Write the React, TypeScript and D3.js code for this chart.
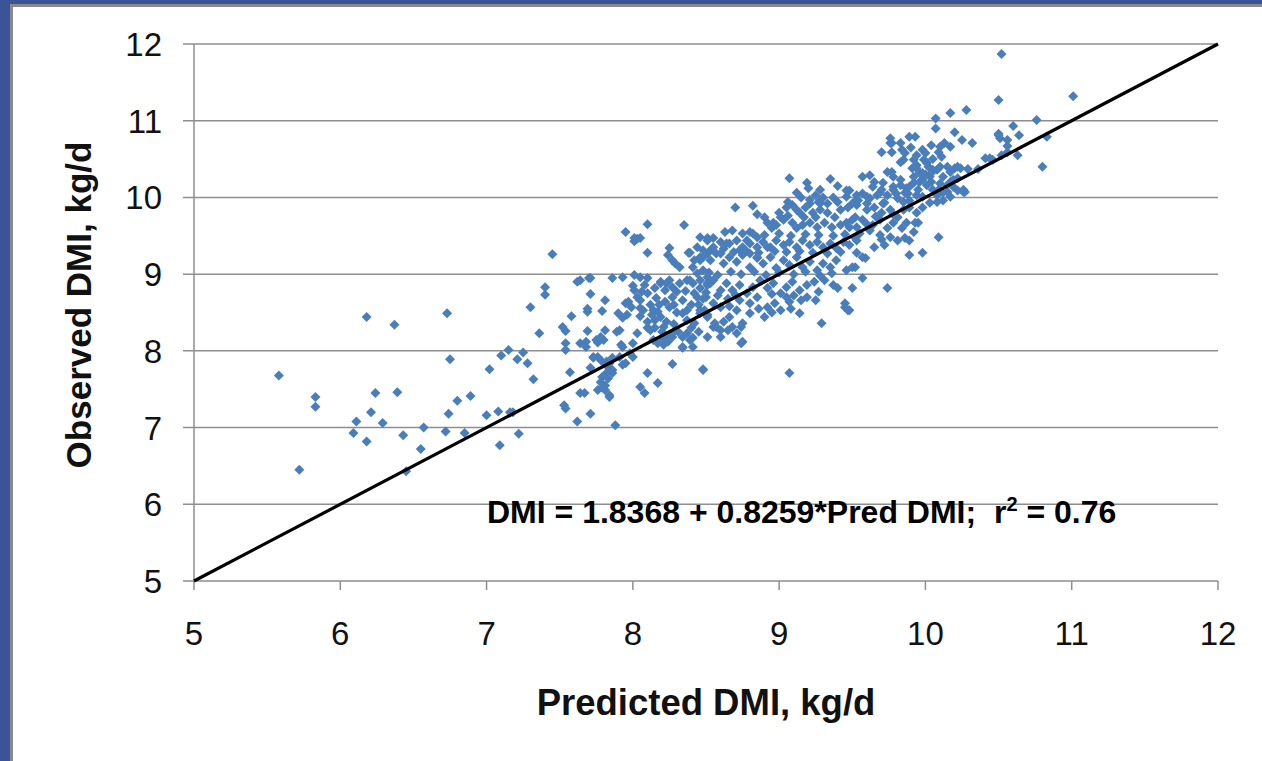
import React from "react";
import * as d3 from "d3";

// ---- data (Predicted DMI, Observed DMI), kg/d ----
const sparseLow: [number, number][] = [
  [7.45,9.26],[7.70,8.95],[7.62,8.90],[7.40,8.83],[7.40,8.73],[7.71,8.74],[7.30,8.57],[6.18,8.44],[6.37,8.34],[6.73,8.49],
  [7.58,8.45],[7.69,8.55],[7.69,8.51],[7.36,8.23],[7.52,8.31],[7.54,8.26],[7.69,8.26],[7.68,8.12],[7.68,8.05],[7.54,8.10],
  [7.54,8.01],[7.75,8.14],[7.73,7.92],[7.71,7.78],[7.57,7.72],[7.67,7.45],[7.76,7.49],[7.53,7.29],[7.54,7.25],[7.62,7.08],
  [7.71,7.18],[6.75,7.89],[7.02,7.76],[7.10,7.94],[7.15,8.01],[7.21,7.89],[7.25,7.98],[7.28,7.84],[7.32,7.63],[5.58,7.68],
  [5.83,7.40],[5.83,7.27],[6.24,7.45],[6.39,7.46],[6.11,7.08],[6.21,7.20],[6.29,7.06],[6.09,6.93],[6.18,6.82],[6.43,6.90],
  [6.57,7.00],[6.72,6.95],[6.74,7.18],[6.80,7.35],[6.89,7.41],[7.00,7.16],[7.08,7.21],[7.18,7.20],[7.16,7.20],[7.22,6.92],
  [7.09,6.77],[6.85,6.93],[6.55,6.72],[6.45,6.43],[5.72,6.45],
];

const clusterLeft: [number, number][] = [
  [7.95,9.55],[8.03,9.46],[8.01,9.43],[8.10,9.28],[8.25,9.34],[8.24,9.25],[8.27,9.18],[8.29,9.14],[8.32,9.09],[8.38,9.28],
  [8.44,9.35],[8.46,9.48],[8.51,9.47],[8.41,9.09],[8.46,9.18],[8.51,9.27],[7.71,8.95],[7.86,8.95],[7.93,8.96],[8.01,8.99],
  [8.05,8.96],[8.10,8.95],[7.81,8.66],[7.79,8.52],[7.81,8.27],[7.78,8.18],[7.80,8.14],[7.76,8.11],[7.89,8.25],[7.91,8.27],
  [7.92,8.08],[8.03,8.23],[7.90,8.49],[7.93,8.43],[7.96,8.47],[7.95,8.62],[7.97,8.64],[7.99,8.57],[8.03,8.70],[8.05,8.66],
  [8.01,8.79],[8.06,8.77],[8.10,8.75],[8.05,8.56],[8.07,8.53],[8.12,8.60],[8.14,8.53],[8.13,8.47],[8.16,8.69],[8.17,8.51],
  [8.19,8.44],[8.15,8.40],[8.10,8.30],[8.12,8.27],[8.15,8.30],[8.21,8.31],[8.23,8.38],[8.25,8.57],[8.22,8.64],[8.27,8.70],
  [8.30,8.77],[8.34,8.66],[8.37,8.53],[8.34,8.49],[8.40,8.60],[8.44,8.70],[8.46,8.82],[8.51,8.88],[8.32,8.88],[8.37,8.92],
  [8.41,8.88],[8.23,8.88],[8.27,8.83],[8.19,8.88],[8.44,9.01],[8.48,9.05],[8.51,8.96],[8.14,8.14],[8.17,8.10],[8.21,8.08],
  [8.24,8.12],[8.20,8.17],[8.23,8.18],[8.27,8.18],[8.31,8.25],[8.34,8.18],[8.37,8.23],[8.41,8.17],[8.34,8.05],[8.46,8.49],
  [8.49,8.53],[8.51,8.47],[8.00,7.92],[7.98,7.97],[7.93,7.82],[7.91,7.92],[7.86,7.91],[7.82,7.86],[7.83,7.79],[7.86,7.75],
  [7.73,7.91],[7.76,7.92],[7.79,7.86],[7.79,7.66],[7.86,7.71],[7.83,7.64],[7.81,7.55],[7.79,7.52],[7.81,7.49],[7.84,7.40],
  [7.88,7.03],[8.05,7.53],[8.08,7.45],[8.10,7.71],[8.17,7.58],[8.27,7.83],[8.48,7.76],[8.19,8.90],[8.25,8.92],[8.39,8.92],
  [8.53,8.88],[7.64,8.92],[7.64,8.10],[7.84,7.84],[7.95,7.84],[7.82,7.71],[7.78,7.59],[7.64,7.45],[7.84,7.42],[7.93,8.05],
  [8.00,8.10],[8.27,8.23],[8.39,8.14],[8.41,8.05],[8.34,8.04],[8.51,8.18],[8.57,8.31],[8.75,8.12],[8.35,9.64],[8.10,9.65],
  [8.01,9.47],[8.05,9.47],[8.39,9.28],[8.48,9.31],[8.46,9.22],[8.42,9.18],
];

const clusterMid: [number, number][] = [
  [9.07,10.25],[9.35,10.24],[9.19,10.19],[9.20,10.12],[9.25,10.03],[9.46,10.09],[9.48,10.09],[8.70,9.87],[8.82,9.89],[9.00,9.80],
  [9.06,9.94],[9.09,9.90],[9.05,9.87],[9.14,9.80],[9.18,9.87],[9.21,9.92],[9.27,9.94],[9.30,10.00],[9.37,10.00],[9.40,9.94],
  [9.33,9.92],[9.28,9.84],[9.25,9.74],[9.33,9.80],[9.42,9.84],[9.47,9.87],[9.50,9.92],[9.54,9.96],[8.92,9.67],[8.95,9.60],
  [8.98,9.64],[9.03,9.71],[9.09,9.67],[9.12,9.60],[9.16,9.64],[9.21,9.67],[9.26,9.61],[9.31,9.67],[9.36,9.61],[9.42,9.64],
  [9.46,9.67],[9.50,9.71],[9.53,9.61],[8.63,9.55],[8.68,9.57],[8.75,9.53],[8.80,9.55],[8.85,9.48],[8.51,9.44],[8.55,9.47],
  [8.60,9.42],[8.66,9.40],[8.71,9.44],[8.75,9.35],[8.80,9.40],[8.85,9.35],[8.89,9.42],[8.94,9.35],[8.98,9.44],[9.03,9.38],
  [9.07,9.42],[9.12,9.35],[9.16,9.44],[9.21,9.38],[9.26,9.42],[9.30,9.35],[9.35,9.40],[9.39,9.34],[9.44,9.42],[9.48,9.38],
  [9.53,9.44],[8.48,9.22],[8.53,9.18],[8.57,9.27],[8.62,9.14],[8.66,9.22],[8.71,9.16],[8.75,9.25],[8.80,9.09],[8.85,9.21],
  [8.89,9.14],[8.94,9.22],[8.98,9.08],[9.03,9.18],[9.07,9.12],[9.12,9.22],[9.16,9.09],[9.21,9.16],[9.26,9.05],[9.30,9.14],
  [9.35,9.09],[9.39,9.18],[9.46,9.05],[9.50,9.09],[8.46,8.92],[8.51,8.86],[8.55,8.92],[8.60,8.79],[8.64,8.88],[8.68,8.79],
  [8.73,8.86],[8.78,8.75],[8.82,8.83],[8.87,8.92],[8.92,8.82],[8.96,8.88],[9.01,8.75],[9.05,8.83],[9.09,8.90],[9.14,8.79],
  [9.19,8.86],[9.24,8.90],[9.27,8.77],[9.31,8.92],[9.37,8.86],[9.40,8.82],[9.50,8.82],[8.46,8.53],[8.51,8.44],[8.55,8.62],
  [8.60,8.57],[8.56,8.36],[8.62,8.38],[8.66,8.44],[8.71,8.53],[8.75,8.36],[8.68,8.31],[8.80,8.62],[8.80,8.49],[8.73,8.66],
  [8.92,8.57],[8.90,8.44],[8.97,8.62],[9.01,8.53],[9.05,8.70],[9.07,8.64],[9.14,8.49],[9.15,8.66],[9.19,8.70],[9.45,8.57],
  [9.47,8.53],[9.29,8.36],[8.60,8.18],[8.74,8.10],[8.48,7.75],[9.07,7.71],[8.55,8.31],[8.60,8.27],[8.65,8.27],[8.74,8.31],
  [8.71,8.23],[8.55,9.35],[8.60,9.27],[8.64,9.40],[8.78,9.44],[8.82,9.53],[8.73,9.31],[8.80,9.27],[8.85,9.22],[8.92,9.35],
  [8.96,9.67],[9.01,9.74],[9.12,9.84],[9.21,9.97],[9.28,9.92],[9.23,9.80],[9.45,8.62],[9.52,9.47],[9.53,9.28],
];

const clusterRight: [number, number][] = [
  [10.07,11.03],[10.17,11.10],[10.28,11.14],[10.07,10.90],[10.20,10.85],[10.25,10.75],[10.32,10.71],[10.50,10.81],[9.89,10.79],[9.93,10.79],
  [9.76,10.77],[9.77,10.71],[9.70,10.59],[9.77,10.59],[9.84,10.62],[9.83,10.46],[9.85,10.49],[9.94,10.55],[9.98,10.62],[10.04,10.68],
  [10.10,10.66],[10.13,10.71],[10.17,10.66],[10.11,10.53],[10.09,10.59],[9.99,10.49],[10.02,10.40],[9.94,10.38],[9.91,10.38],[9.98,10.32],
  [10.04,10.32],[10.08,10.36],[9.74,10.33],[9.78,10.27],[9.62,10.29],[9.57,10.27],[9.65,10.20],[9.71,10.19],[10.17,10.33],[10.20,10.38],
  [10.22,10.40],[10.29,10.37],[10.36,10.37],[10.12,10.27],[10.17,10.20],[10.22,10.25],[10.19,10.14],[10.15,10.07],[10.08,10.03],[10.05,10.10],
  [10.01,10.16],[9.96,10.20],[9.92,10.19],[9.87,10.12],[9.83,10.16],[9.78,10.10],[9.74,10.03],[9.81,9.99],[9.85,9.94],[9.89,9.96],
  [9.94,10.03],[9.98,10.01],[10.03,9.93],[10.08,9.94],[10.12,9.96],[10.17,10.01],[10.22,10.09],[10.27,10.07],[9.53,10.03],[9.57,10.05],
  [9.62,9.99],[9.67,10.03],[9.71,9.92],[9.53,9.90],[9.60,9.84],[9.65,9.87],[9.70,9.80],[9.76,9.84],[9.81,9.74],[9.85,9.84],
  [9.89,9.87],[9.94,9.80],[9.98,9.87],[9.93,9.67],[9.87,9.67],[9.78,9.67],[9.74,9.60],[9.69,9.71],[9.64,9.64],[9.57,9.71],
  [9.52,9.74],[9.48,9.61],[9.55,9.53],[9.62,9.57],[9.69,9.51],[9.76,9.48],[9.81,9.44],[9.86,9.47],[9.89,9.44],[9.65,9.35],
  [9.72,9.38],[9.57,9.22],[9.52,9.09],[9.95,9.67],[10.09,9.48],[9.89,9.25],[9.98,9.28],[9.57,8.95],[9.74,8.82],[9.48,8.53],
  [10.52,11.87],[10.50,11.27],[11.01,11.32],[10.76,11.01],[10.60,10.93],[10.64,10.81],[10.50,10.83],[10.51,10.77],[10.56,10.75],[10.56,10.67],
  [10.83,10.79],[10.56,10.59],[10.52,10.55],[10.63,10.55],[10.44,10.51],[10.80,10.40],[10.24,10.38],[10.26,10.07],[10.46,10.49],[10.41,10.51],
  [10.19,10.23],[10.26,10.10],[10.15,10.16],[10.12,10.06],[10.09,10.10],[10.04,10.20],[9.96,10.32],[9.94,10.42],[9.92,10.49],[9.59,9.21],
  [9.46,10.01],[9.53,9.97],[9.60,10.01],[9.64,10.14],[9.77,10.33],[9.69,10.06],[9.78,10.14],[9.83,10.23],[9.86,10.06],[9.89,10.14],
  [9.92,10.27],[9.98,10.23],[10.03,10.27],[10.05,10.36],[10.10,10.40],[10.15,10.40],[10.01,10.45],[9.86,10.58],[9.83,10.71],[9.76,10.71],
];

// additional points in the densest part of the cloud
const clusterFill: [number, number][] = [
  [8.53,9.31],[8.62,9.33],[8.69,9.29],[8.77,9.31],[8.86,9.28],[8.97,9.30],[9.05,9.29],[9.14,9.30],[9.23,9.28],[9.33,9.27],
  [9.42,9.29],[8.52,9.02],[8.58,8.99],[8.67,9.03],[8.74,9.00],[8.83,9.03],[8.91,8.99],[9.00,9.02],[9.10,9.00],[9.18,9.03],
  [9.28,8.98],[9.36,9.01],[8.50,8.70],[8.58,8.72],[8.65,8.68],[8.70,8.73],[8.85,8.70],[8.95,8.74],[9.10,8.72],[9.25,8.66],
  [8.66,8.58],[8.86,8.55],[8.95,8.50],[9.08,8.55],[8.85,9.78],[8.90,9.74],[9.06,9.76],[9.17,9.74],[9.38,9.74],[8.90,9.51],
  [9.00,9.53],[9.08,9.50],[9.18,9.52],[9.27,9.51],[9.37,9.50],[9.45,9.52],[9.12,10.06],[9.28,10.10],[9.40,10.15],[9.15,10.00],
  [8.00,8.85],[8.08,8.86],[8.15,8.82],[8.22,8.79],[8.28,8.60],[8.30,8.50],[8.37,8.40],[8.42,8.36],[8.45,8.60],[8.48,8.68],
  [8.20,8.25],[8.28,8.35],[8.40,8.30],[8.45,8.25],[8.10,8.38],[8.05,8.45],[8.18,8.60],[8.36,8.78],[8.42,8.75],[8.50,8.76],
  [9.60,9.92],[9.70,10.10],[9.80,10.05],[9.88,10.05],[9.95,10.10],[10.00,10.30],[10.10,10.18],[10.05,10.50],[9.90,10.65],[10.00,10.58],
  [9.72,9.93],[9.66,9.75],[9.60,9.65],[9.78,9.78],[9.84,9.60],[9.92,9.55],[9.70,9.45],
];

const ticks = [5, 6, 7, 8, 9, 10, 11, 12];
const xTitle = "Predicted DMI, kg/d";
const yTitle = "Observed DMI, kg/d";
const equation = "DMI = 1.8368 + 0.8259*Pred DMI;\u00A0\u00A0r";
const eqSup = "2";
const eqTail = " = 0.76";

const W = 1262, H = 761;
const FONT = "'Liberation Sans', Arial, Helvetica, sans-serif";

export default function App() {
  const x = d3.scaleLinear().domain([5, 12]).range([194, 1218]);
  const y = d3.scaleLinear().domain([5, 12]).range([581, 44]);
  const all = [...sparseLow, ...clusterLeft, ...clusterMid, ...clusterRight, ...clusterFill];
  const sym = d3.symbol(d3.symbolSquare, 50)();
  const grey = "#8e8e8e";
  return (
    <svg width={W} height={H} style={{ position: "absolute", left: 0, top: 0, background: "#fff" }}
      fontFamily={FONT}>
      <rect x={0} y={0} width={W} height={H} fill="#fff" />
      {/* slide frame */}
      <rect x={0} y={0} width={W} height={4} fill="#3b5497" />
      <rect x={0} y={0} width={10} height={H} fill="#3b5497" />
      <rect x={10} y={4} width={W - 10} height={3} fill="#8a8a8a" />
      <rect x={10} y={4} width={3} height={H - 4} fill="#8a8a8a" />

      {/* gridlines + y ticks */}
      {ticks.map((t) => (
        <line key={"g" + t} x1={183} x2={x(12)} y1={y(t)} y2={y(t)} stroke={grey} strokeWidth={1.5} />
      ))}
      {/* x ticks */}
      {ticks.map((t) => (
        <line key={"xt" + t} x1={x(t)} x2={x(t)} y1={y(5)} y2={y(5) + 9} stroke={grey} strokeWidth={1.5} />
      ))}
      <line x1={x(5)} x2={x(5)} y1={y(12)} y2={y(5)} stroke={grey} strokeWidth={1.5} />

      {/* y tick labels */}
      {ticks.map((t) => (
        <text key={"yl" + t} x={162} y={y(t) + 12} textAnchor="end" fontSize={33} fill="#111">{t}</text>
      ))}
      {/* x tick labels */}
      {ticks.map((t) => (
        <text key={"xl" + t} x={x(t)} y={645} textAnchor="middle" fontSize={33} fill="#111">{t}</text>
      ))}

      {/* points */}
      {all.map((p, i) => (
        <path key={i} d={sym} transform={`translate(${x(p[0])},${y(p[1])}) rotate(45)`} fill="#4a7ebb" />
      ))}

      {/* 1:1 line */}
      <line x1={x(5)} y1={y(5)} x2={x(12)} y2={y(12)} stroke="#000" strokeWidth={3.2} />

      {/* equation */}
      <text x={487} y={523} fontSize={32} fontWeight="bold" fill="#000">
        {equation}
        <tspan fontSize={20} dy={-12}>{eqSup}</tspan>
        <tspan dy={12}>{eqTail}</tspan>
      </text>

      {/* axis titles */}
      <text x={706} y={715} textAnchor="middle" fontSize={36.5} fontWeight="bold" fill="#111">{xTitle}</text>
      <text transform={`translate(91,305) rotate(-90)`} textAnchor="middle" fontSize={35} fontWeight="bold" fill="#111">{yTitle}</text>
    </svg>
  );
}
